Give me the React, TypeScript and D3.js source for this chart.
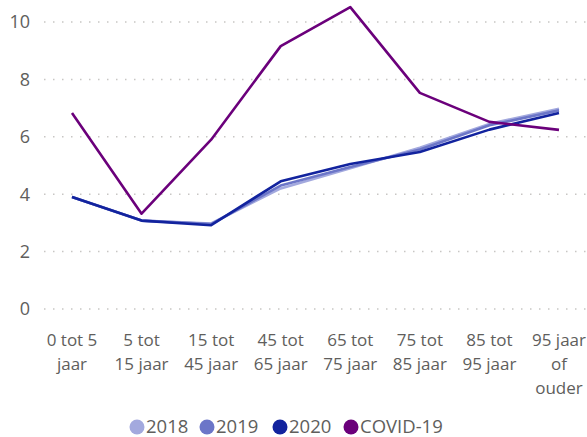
import React from "react";
import * as d3 from "d3";

const categories = [
  ["0 tot 5", "jaar"],
  ["5 tot", "15 jaar"],
  ["15 tot", "45 jaar"],
  ["45 tot", "65 jaar"],
  ["65 tot", "75 jaar"],
  ["75 tot", "85 jaar"],
  ["85 tot", "95 jaar"],
  ["95 jaar", "of", "ouder"],
];
const s2018 = [3.9, 3.08, 2.98, 4.2, 4.9, 5.62, 6.45, 6.98];
const s2019 = [3.9, 3.08, 2.96, 4.3, 4.95, 5.56, 6.4, 6.92];
const s2020 = [3.9, 3.08, 2.92, 4.45, 5.05, 5.47, 6.25, 6.83];
const covid = [6.83, 3.32, 5.9, 9.16, 10.52, 7.53, 6.52, 6.24];
const yTicks = [0, 2, 4, 6, 8, 10];

const series = [
  { name: "2018", values: s2018, color: "#A3A9DE" },
  { name: "2019", values: s2019, color: "#6C76C8" },
  { name: "2020", values: s2020, color: "#12239E" },
  { name: "COVID-19", values: covid, color: "#6B007B" },
];

const W = 587, H = 437;
const font = "'Open Sans', 'Segoe UI', sans-serif";
const textColor = "#605E5C";

export default function App() {
  const x = d3.scalePoint<number>().domain(d3.range(categories.length)).range([72, 559]);
  const y = d3.scaleLinear().domain([0, 10]).range([309, 22]);
  const line = d3.line<number>().x((_, i) => x(i)!).y((d) => y(d));
  const legendX = [130, 200, 273, 344];
  return (
    <svg width={W} height={H} style={{ position: "absolute", left: 0, top: 0, background: "#fff" }}>
      {yTicks.map((t) => (
        <g key={t}>
          <line x1={44} x2={587} y1={y(t)} y2={y(t)} stroke="#C8C6C4" strokeWidth={1.5} strokeDasharray="1.5,7.5" />
          <text x={30} y={y(t)} dy="0.35em" textAnchor="end" fontFamily={font} fontSize={18} fill={textColor}>{t}</text>
        </g>
      ))}
      {categories.map((lines, i) => (
        <text key={i} x={x(i)} y={346} textAnchor="middle" fontFamily={font} fontSize={17} fill={textColor}>
          {lines.map((l, j) => (
            <tspan key={j} x={x(i)} dy={j === 0 ? 0 : 24}>{l}</tspan>
          ))}
        </text>
      ))}
      {series.map((s) => (
        <path key={s.name} d={line(s.values)!} fill="none" stroke={s.color} strokeWidth={2.6} strokeLinejoin="round" />
      ))}
      {series.map((s, i) => (
        <g key={s.name} transform={`translate(${legendX[i]},426)`}>
          <circle cx={7} cy={1} r={7.5} fill={s.color} />
          <text x={16} y={0} dy="0.36em" fontFamily={font} fontSize={18.5} fill={textColor}>{s.name}</text>
        </g>
      ))}
    </svg>
  );
}
